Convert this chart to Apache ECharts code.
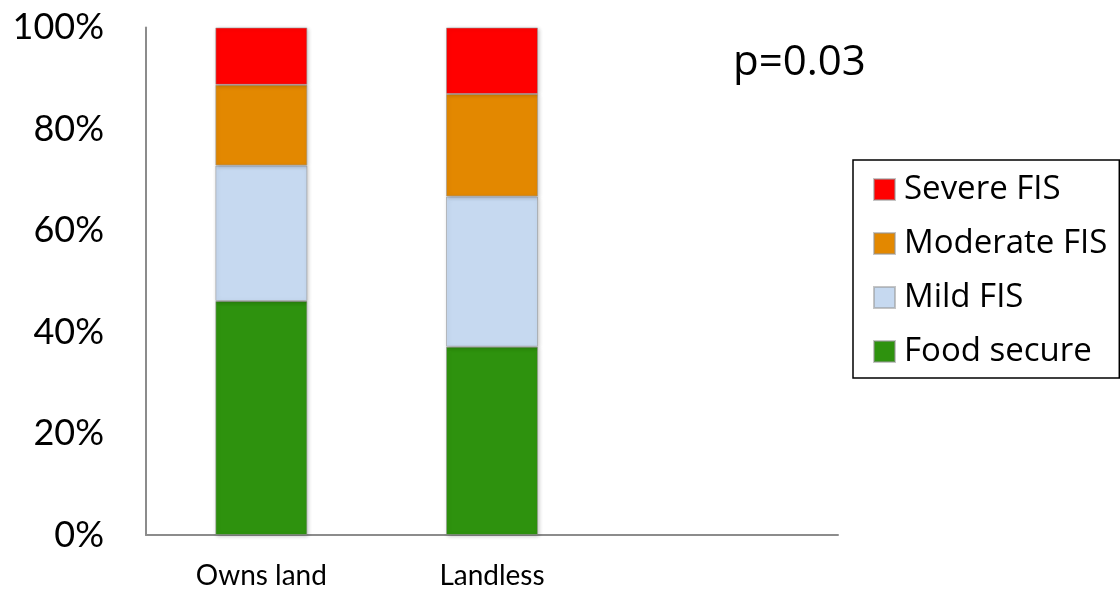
<!DOCTYPE html>
<html>
<head>
<meta charset="utf-8">
<script src="https://cdn.jsdelivr.net/npm/echarts@6/dist/echarts.min.js"></script>
<style>
  html, body { margin: 0; padding: 0; background: #fff; }
  #chart { width: 1120px; height: 595px; }
</style>
</head>
<body>
<div id="chart"></div>
<script>
// Land ownership groups (third slot is left empty on the axis)
const categories = ['Owns land', 'Landless', ''];

// Share of households (%) in each food insecurity level
const foodSecure  = [46.1, 37.1, null];
const mildFIS     = [26.7, 29.6, null];
const moderateFIS = [15.9, 20.2, null];
const severeFIS   = [11.3, 13.1, null];

const legendOrder = ['Severe FIS', 'Moderate FIS', 'Mild FIS', 'Food secure'];
const pValueText = 'p=0.03';

const FONT = 'Lato, "Open Sans", sans-serif';
const WIDE_FONT = '"Open Sans", Lato, sans-serif';

const chart = echarts.init(document.getElementById('chart'));

function seg(name, data, color) {
  return {
    name: name,
    type: 'bar',
    stack: 'total',
    data: data,
    barWidth: 92,
    itemStyle: {
      color: color,
      borderColor: 'rgba(150,150,150,0.55)',
      borderWidth: 1,
      shadowBlur: 4,
      shadowColor: 'rgba(0,0,0,0.22)',
      shadowOffsetX: 1,
      shadowOffsetY: 1
    },
    emphasis: { disabled: true }
  };
}

chart.setOption({
  animation: false,
  backgroundColor: '#ffffff',
  grid: { left: 146, right: 282, top: 27.5, bottom: 60, containLabel: false },
  xAxis: {
    type: 'category',
    data: categories,
    axisLine: { show: true, lineStyle: { color: '#8c8c8c', width: 2 } },
    axisTick: { show: false },
    axisLabel: { color: '#000', fontFamily: FONT, fontSize: 28, margin: 27 },
    splitLine: { show: false }
  },
  yAxis: {
    type: 'value',
    min: 0,
    max: 100,
    interval: 20,
    axisLine: { show: true, lineStyle: { color: '#8c8c8c', width: 2 } },
    axisTick: { show: false },
    splitLine: { show: false },
    axisLabel: {
      color: '#000', fontFamily: FONT, fontSize: 36, margin: 42,
      formatter: function (v) { return v + '%'; }
    }
  },
  legend: {
    data: legendOrder,
    orient: 'vertical',
    left: 853,
    top: 160,
    padding: [13, 12, 10, 20],
    itemWidth: 21,
    itemHeight: 21,
    itemGap: 21,
    borderColor: '#000',
    borderWidth: 1.5,
    icon: 'rect',
    selectedMode: false,
    textStyle: { color: '#000', fontFamily: WIDE_FONT, fontSize: 33, lineHeight: 33, padding: [0, 0, 0, 4] }
  },
  graphic: [{
    type: 'text',
    x: 733,
    y: 63,
    style: {
      text: pValueText, fill: '#000',
      font: '42px ' + WIDE_FONT,
      textVerticalAlign: 'middle'
    }
  }],
  series: [
    seg('Food secure', foodSecure, '#2e920e'),
    seg('Mild FIS', mildFIS, '#c6d9f0'),
    seg('Moderate FIS', moderateFIS, '#e38800'),
    seg('Severe FIS', severeFIS, '#ff0000')
  ]
});
</script>
</body>
</html>
